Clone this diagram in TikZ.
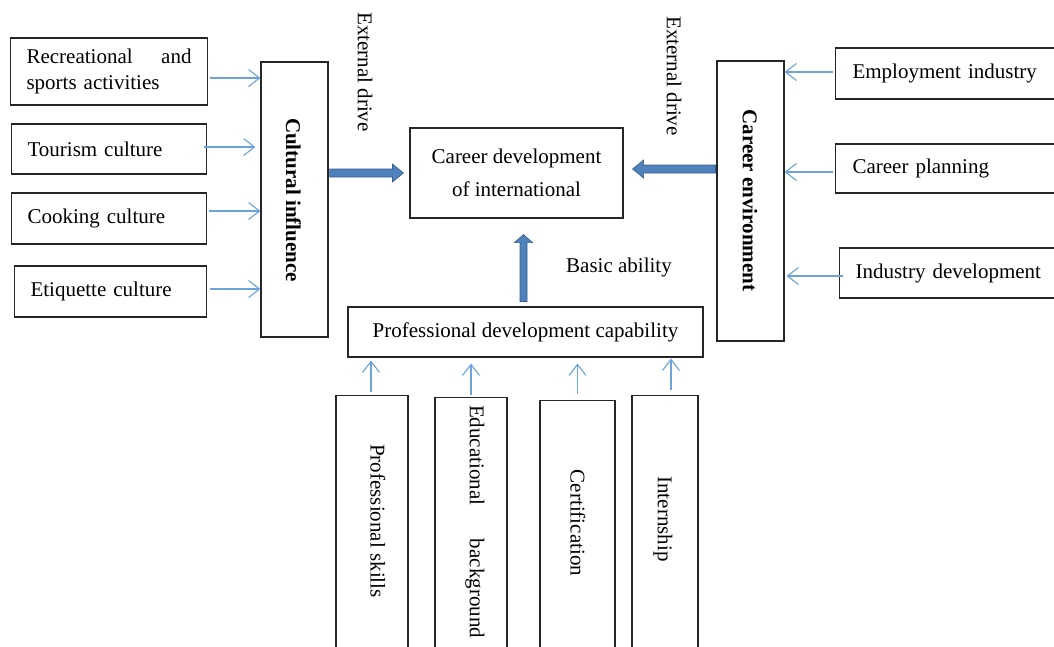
\documentclass[tikz,border=0pt]{standalone}
\usepackage{fontspec}
\setmainfont{Liberation Serif}
\usetikzlibrary{arrows.meta,calc}
\definecolor{thinblue}{RGB}{108,163,218}
\definecolor{fatfill}{RGB}{79,129,189}
\definecolor{fatline}{RGB}{56,93,138}
\begin{document}
\begin{tikzpicture}[x=1pt,y=-1pt,
  box/.style={draw=black!85, line width=1.1pt, inner sep=0pt, font=\fontsize{21}{26}\selectfont},
  lbox/.style={box, anchor=west, inner xsep=16pt, align=left},
  cbox/.style={box, align=center},
  txt/.style={inner sep=0pt, font=\fontsize{21}{26}\selectfont},
  vtxt/.style={txt, rotate=-90},
  thinarrow/.style={draw=thinblue, line width=1.1pt, -{Straight Barb[length=11pt,width=17pt,line width=1.1pt]}},
  fat/.style={fill=fatfill, draw=fatline, line width=0.6pt}]
\clip (0,0) rectangle (1054,646);
\fill[white] (0,0) rectangle (1054,646);
% left boxes
\node[lbox, text width=165pt, minimum height=67pt] (rec) at (10,71.5)
  {\makebox[165pt][l]{Recreational\hfill and}\\sports activities};
\node[lbox, text width=163pt, minimum height=50pt] (tour) at (11,149) {Tourism culture};
\node[lbox, text width=163pt, minimum height=51pt] (cook) at (11,218.5) {Cooking culture};
\node[lbox, text width=160pt, minimum height=51pt] (etiq) at (14,291.5) {Etiquette culture};
% cultural influence
\node[box, minimum width=67pt, minimum height=275pt] (cult) at (294.5,199.5) {};
\node[vtxt, font=\fontsize{21}{26}\selectfont\bfseries] (cultt) at (293.5,200) {Cultural influence};
% career environment
\node[box, minimum width=67pt, minimum height=280pt] (env) at (750.5,201) {};
\node[vtxt, font=\fontsize{21}{26}\selectfont\bfseries] (envt) at (750,200.5) {Career environment};
% center
\node[cbox, minimum width=213pt, minimum height=90pt, font=\fontsize{21}{33}\selectfont] (cdev) at (516.5,173)
  {Career development\\of international};
\node[cbox, minimum width=355pt, minimum height=50pt] (prof) at (525.5,332) {Professional development capability};
% right boxes
\node[lbox, inner xsep=17pt, text width=200pt, minimum height=51pt] (emp) at (835,73.5) {Employment industry};
\node[lbox, inner xsep=17pt, text width=200pt, minimum height=49pt] (plan) at (835,168.5) {Career planning};
\node[lbox, inner xsep=16pt, text width=200pt, minimum height=50pt] (ind) at (839,273) {Industry development};
% bottom boxes
\node[box, anchor=north, minimum width=72pt, minimum height=265pt] (ps) at (372,395) {};
\node[box, anchor=north, minimum width=72pt, minimum height=263pt] (eb) at (471,397) {};
\node[box, anchor=north, minimum width=75pt, minimum height=260pt] (cert) at (577.5,400) {};
\node[box, anchor=north, minimum width=66pt, minimum height=265pt] (intern) at (665,395) {};
\node[vtxt] (pst) at (378,521) {Professional skills};
\node[vtxt] (ebt) at (475,521.5) {\makebox[233pt][l]{Educational\hfill background}};
\node[vtxt] (certt) at (578,523) {Certification};
\node[vtxt] (internt) at (663,519) {Internship};
% labels
\node[vtxt] (ext1) at (365,72) {External drive};
\node[vtxt] (ext2) at (674,76) {External drive};
\node[txt] (basic) at (619,267) {Basic ability};
% thin arrows left
\draw[thinarrow, shorten <=2pt] ([yshift=-6.5pt]rec.east) -- ([yshift=-6.5pt]rec.east -| cult.west);
\draw[thinarrow, shorten <=-3pt, shorten >=5pt] ([yshift=2pt]tour.east) -- ([yshift=2pt]tour.east -| cult.west);
\draw[thinarrow, shorten <=2pt] ([yshift=7.5pt]cook.east) -- ([yshift=7.5pt]cook.east -| cult.west);
\draw[thinarrow, shorten <=3pt] ([yshift=2.5pt]etiq.east) -- ([yshift=2.5pt]etiq.east -| cult.west);
% thin arrows right
\draw[thinarrow, shorten <=2pt] ([yshift=1.5pt]emp.west) -- ([yshift=1.5pt]emp.west -| env.east);
\draw[thinarrow, shorten <=2pt] ([yshift=-3.5pt]plan.west) -- ([yshift=-3.5pt]plan.west -| env.east);
\draw[thinarrow, shorten <=-4pt, shorten >=2pt] ([yshift=-3pt]ind.west) -- ([yshift=-3pt]ind.west -| env.east);
% thin arrows bottom
\draw[thinarrow, shorten <=3pt, shorten >=3pt] ([xshift=-1pt]ps.north) -- ([xshift=-1pt]ps.north |- prof.south);
\draw[thinarrow, shorten <=2pt, shorten >=6pt] (eb.north) -- (eb.north |- prof.south);
\draw[thinarrow, shorten <=6pt, shorten >=6pt] (cert.north) -- (cert.north |- prof.south);
\draw[thinarrow, shorten <=5pt, shorten >=1pt] ([xshift=6pt]intern.north) -- ([xshift=6pt]intern.north |- prof.south);
% fat arrows
\path[fat] let \p1=(cult.east |- cdev.west), \p2=([xshift=-6pt]cdev.west) in
  (\x1+1pt,\y1+4pt) -- (\x2-11pt,\y1+4pt) -- (\x2-11pt,\y1+9pt) -- (\x2,\y1)
  -- (\x2-11pt,\y1-9pt) -- (\x2-11pt,\y1-4pt) -- (\x1+1pt,\y1-4pt) -- cycle;
\path[fat] let \p2=([xshift=9pt,yshift=4pt]cdev.east), \p1=(env.west) in
  (\x1-1pt,\y2+4pt) -- (\x2+11pt,\y2+4pt) -- (\x2+11pt,\y2+9pt) -- (\x2,\y2)
  -- (\x2+11pt,\y2-9pt) -- (\x2+11pt,\y2-4pt) -- (\x1-1pt,\y2-4pt) -- cycle;
\path[fat] let \p1=([xshift=-2pt,yshift=5pt]prof.north), \p2=([yshift=-16pt]cdev.south) in
  (\x1-3.5pt,\y1) -- (\x1-3.5pt,\y2-8pt) -- (\x1-9pt,\y2-8pt) -- (\x1,\y2)
  -- (\x1+9pt,\y2-8pt) -- (\x1+3.5pt,\y2-8pt) -- (\x1+3.5pt,\y1) -- cycle;
\end{tikzpicture}
\end{document}
